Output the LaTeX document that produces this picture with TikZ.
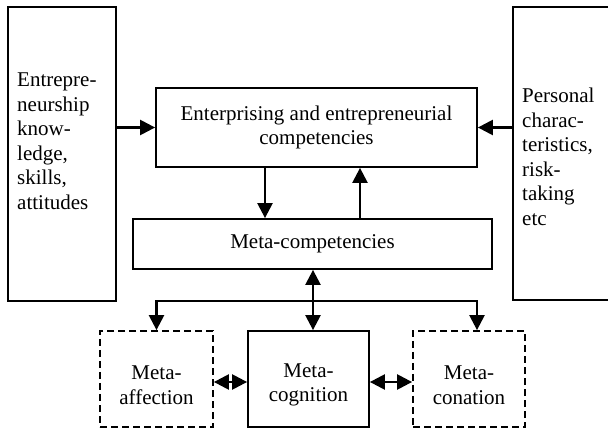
\documentclass[tikz,border=0pt]{standalone}
\usepackage{fontspec}
\setmainfont{Liberation Serif}
\usetikzlibrary{arrows.meta}
\begin{document}
\begin{tikzpicture}[x=1pt,y=-1pt,
  box/.style={draw,line width=1.8pt,inner sep=0pt,align=center},
  dbox/.style={box,dash pattern=on 7pt off 4pt},
  lbl/.style={inner sep=0pt,align=left},
  clbl/.style={inner sep=0pt,align=center},
  arr/.style={line width=2.4pt,-{Triangle[length=15pt,width=15pt]}},
  darr/.style={line width=2.4pt,{Triangle[length=15pt,width=15pt]}-{Triangle[length=15pt,width=15pt]}},
  font=\fontsize{21}{24.5}\selectfont]
\useasboundingbox (0,0) rectangle (608,430);
\node[box, minimum width=108pt, minimum height=294pt] (L) at (62,154) {};
\node[lbl, anchor=north west] (Lt) at (17,73) {Entrepre-\\neurship\\know-\\ledge,\\skills,\\attitudes};
\node[box, minimum width=112pt, minimum height=293pt] (R) at (569,153.5) {};
\node[lbl, anchor=north west] (Rt) at (522,88) {Personal\\charac-\\teristics,\\risk-\\taking\\etc};
\node[box, minimum width=321pt, minimum height=79pt] (E) at (316.5,127.5) {Enterprising and entrepreneurial\\competencies};
\node[box, minimum width=359pt, minimum height=50pt] (M) at (312.5,244) {Meta-competencies};
\node[dbox, minimum width=113pt, minimum height=96pt] (A) at (156.5,379) {};
\node[box, minimum width=121pt, minimum height=96pt] (C) at (308.5,379) {};
\node[dbox, minimum width=112pt, minimum height=96pt] (N) at (469,379) {};
\node[clbl] (At) at ([yshift=-6pt]A.center) {Meta-\\affection};
\node[clbl] (Ct) at ([yshift=-6pt]C.center) {Meta-\\cognition};
\node[clbl] (Nt) at ([yshift=-6pt]N.center) {Meta-\\conation};
\coordinate (br) at (477,301);
\draw[arr] (E.west -| L.east) -- (E.west);
\draw[arr] (E.east -| R.west) -- (E.east);
\draw[arr] ([xshift=-51.5pt]E.south) -- ([xshift=-51.5pt]E.south |- M.north);
\draw[arr] ([xshift=43.5pt]E.south |- M.north) -- ([xshift=43.5pt]E.south);
\draw[darr] ([xshift=4.5pt]C.north |- M.south) -- ([xshift=4.5pt]C.north);
\draw[darr] (A.north) |- (br) -- (br |- N.north);
\draw[darr] ([yshift=-3pt]A.east) -- ([yshift=-3pt]C.west);
\draw[darr] ([yshift=-3pt]C.east) -- ([yshift=-3pt]N.west);
\end{tikzpicture}
\end{document}
